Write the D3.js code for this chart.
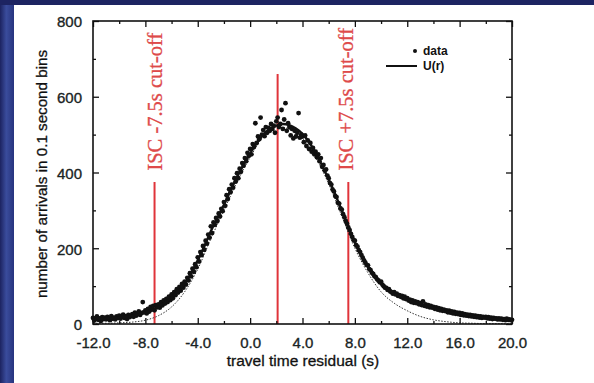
<!DOCTYPE html>
<html><head><meta charset="utf-8">
<script src="https://cdn.jsdelivr.net/npm/d3@7"></script>
<style>html,body{margin:0;padding:0;background:#222a6e;}svg{display:block;}</style>
</head><body>
<svg id="c" width="594" height="383"></svg>
<script>
// ---- data ----
const xTickValues = [-12, -8, -4, 0, 4, 8, 12, 16, 20];
const xTickLabels = ["-12.0", "-8.0", "-4.0", "0.0", "4.0", "8.0", "12.0", "16.0", "20.0"];
const xMinorTicks = [-10, -6, -2, 2, 6, 10, 14, 18];
const yTickValues = [0, 200, 400, 600, 800];
const yTickLabels = ["0", "200", "400", "600", "800"];
const yMinorTicks = [100, 300, 500, 700];

// data: arrivals in 0.1 s bins, from -12.0 to 20.0
const dataStart = -12.0, dataStep = 0.1;
const dataCounts = [
  16, 9, 14, 20, 11, 15, 8, 18, 13, 17,
  12, 19, 15, 10, 21, 14, 17, 12, 20, 16,
  22, 14, 19, 25, 16, 21, 13, 24, 18, 22,
  26, 19, 30, 22, 27, 33, 24, 29, 58, 31,
  36, 28, 40, 33, 45, 38, 48, 36, 50, 44,
  52, 43, 58, 49, 62, 54, 66, 58, 72, 63,
  78, 68, 84, 76, 92, 83, 98, 88, 106, 96,
  112, 104, 122, 115, 134, 126, 146, 138, 158, 150,
  176, 165, 190, 182, 206, 196, 220, 212, 236, 228,
  258, 240, 268, 262, 280, 272, 292, 284, 304, 298,
  322, 312, 340, 330, 356, 348, 368, 360, 385, 376,
  398, 385, 410, 402, 425, 418, 438, 430, 452, 444,
  462, 448, 475, 468, 530, 478, 495, 488, 545, 500,
  512, 496, 520, 505, 518, 510, 528, 515, 524, 505,
  535, 545, 520, 528, 565, 515, 540, 583, 510, 530,
  520, 498, 515, 490, 510, 495, 505, 557, 492, 500,
  495, 480, 498, 470, 485, 462, 478, 455, 465, 448,
  455, 440, 448, 430, 438, 415, 420, 405, 408, 392,
  385, 372, 368, 355, 350, 338, 335, 320, 318, 305,
  302, 290, 282, 272, 265, 255, 248, 238, 230, 222,
  220, 208, 204, 195, 190, 182, 175, 168, 162, 156,
  155, 145, 142, 135, 132, 126, 124, 118, 115, 110,
  112, 104, 100, 96, 95, 90, 92, 86, 84, 80,
  84, 78, 80, 74, 76, 72, 74, 68, 72, 66,
  68, 62, 64, 58, 62, 56, 60, 55, 58, 52,
  55, 50, 60, 48, 52, 46, 50, 44, 48, 43,
  45, 40, 44, 38, 42, 36, 40, 35, 38, 34,
  36, 31, 35, 30, 33, 28, 32, 27, 30, 26,
  29, 24, 28, 23, 26, 22, 25, 21, 24, 20,
  23, 19, 22, 18, 21, 17, 20, 16, 19, 17,
  19, 15, 18, 14, 17, 13, 16, 14, 15, 12,
  15, 12, 14, 11, 13, 10, 14, 11, 12, 10,
  11
];

// U(r) curve, sampled every 0.5 s
const uStart = -12.0, uStep = 0.5;
const uValues = [
  12, 13, 14, 15, 17, 19, 21, 25, 30, 37, 45, 56, 70, 87, 106, 135,
  168, 205, 245, 280, 315, 352, 388, 420, 450, 478, 500, 515, 524, 528,
  525, 516, 502, 480, 452, 418, 382, 342, 300, 257, 215, 180, 150, 126,
  107, 92, 80, 72, 65, 58, 52, 47, 42, 37, 33, 29, 26, 23, 20, 18,
  16, 14, 13, 12, 11
];

// thin dotted lower curve, sampled every 1 s
const lowStart = -12.0, lowStep = 1.0;
const lowValues = [
  2, 2, 3, 5, 10, 22, 45, 85, 145, 225, 300, 375, 440, 495, 520, 515,
  490, 440, 370, 285, 200, 135, 85, 55, 35, 20, 11, 6, 3, 2, 1, 1, 0
];

// red marker lines (position, top value) and labels
const cutLines = [
  {x: -7.3, top: 375},
  {x: 2.1, top: 660},
  {x: 7.5, top: 375}
];
const cutLabels = [
  {x: -7.3, text: "ISC -7.5s cut-off"},
  {x: 7.35, text: "ISC +7.5s cut-off"}
];
const legendItems = ["data", "U(r)"];

// ---- drawing ----
const svg = d3.select("#c");
const W = 594, H = 383;
const L = 93, R = 512, T = 21, B = 324;

const defs = svg.append("defs");
const g1 = defs.append("linearGradient").attr("id", "side").attr("x1", 0).attr("x2", 1).attr("y1", 0).attr("y2", 0);
g1.append("stop").attr("offset", 0).attr("stop-color", "#1c2360");
g1.append("stop").attr("offset", 0.45).attr("stop-color", "#3a4c9c");
g1.append("stop").attr("offset", 1).attr("stop-color", "#27347e");

svg.append("rect").attr("width", W).attr("height", H).attr("fill", "#1d2462");
svg.append("rect").attr("x", 0).attr("y", 5).attr("width", 14).attr("height", H - 5).attr("fill", "url(#side)");
svg.append("rect").attr("x", 14).attr("y", 5).attr("width", W - 14).attr("height", H - 5).attr("fill", "#ffffff");

const x = d3.scaleLinear().domain([-12, 20]).range([L, R]);
const y = d3.scaleLinear().domain([0, 800]).range([B, T]);

const font = "'Liberation Sans', Arial, Helvetica, sans-serif";

// red lines
svg.append("g").selectAll("line").data(cutLines).join("line")
  .attr("x1", d => x(d.x)).attr("x2", d => x(d.x))
  .attr("y1", d => y(d.top)).attr("y2", y(0))
  .attr("stroke", "#e0343a").attr("stroke-width", 2);

// red rotated labels
svg.append("g").selectAll("text").data(cutLabels).join("text")
  .attr("transform", d => `translate(${x(d.x) + 7},${y(405)}) rotate(-90)`)
  .attr("text-anchor", "start")
  .attr("font-family", "'Liberation Serif', 'Times New Roman', serif")
  .attr("font-size", 20.5)
  .attr("fill", "#de4a4a").attr("stroke", "#de4a4a").attr("stroke-width", 0.3)
  .text(d => d.text);

// dotted lower curve
const lowPts = lowValues.map((v, i) => [lowStart + i * lowStep, v]);
svg.append("path").datum(lowPts)
  .attr("d", d3.line().x(d => x(d[0])).y(d => y(d[1])).curve(d3.curveMonotoneX))
  .attr("fill", "none").attr("stroke", "#333").attr("stroke-width", 1)
  .attr("stroke-dasharray", "1.5,1.5");

// data points
const dataPts = dataCounts.map((v, i) => [dataStart + i * dataStep, v]);
svg.append("g").selectAll("circle").data(dataPts).join("circle")
  .attr("cx", d => x(d[0])).attr("cy", d => y(d[1])).attr("r", 2.4)
  .attr("fill", "#111");

// U(r) curve
const uPts = uValues.map((v, i) => [uStart + i * uStep, v]);
svg.append("path").datum(uPts)
  .attr("d", d3.line().x(d => x(d[0])).y(d => y(d[1])).curve(d3.curveMonotoneX))
  .attr("fill", "none").attr("stroke", "#111").attr("stroke-width", 2.4);

// axes
function styleAxis(g) {
  g.select(".domain").remove();
  g.selectAll(".tick line").attr("stroke", "#111").attr("stroke-width", 1.3);
  g.selectAll("text").attr("font-family", font).attr("font-size", 15)
    .attr("fill", "#1a2424").attr("stroke", "#1a2424").attr("stroke-width", 0.35);
}
const xb = svg.append("g").attr("transform", `translate(0,${B})`)
  .call(d3.axisBottom(x).tickValues(xTickValues).tickSize(-6).tickPadding(13)
    .tickFormat((d, i) => xTickLabels[i]));
styleAxis(xb);
const xbm = svg.append("g").attr("transform", `translate(0,${B})`)
  .call(d3.axisBottom(x).tickValues(xMinorTicks).tickSize(-3).tickFormat(""));
styleAxis(xbm);
const xt = svg.append("g").attr("transform", `translate(0,${T})`)
  .call(d3.axisTop(x).tickValues(xTickValues).tickSize(-6).tickFormat(""));
styleAxis(xt);
const xtm = svg.append("g").attr("transform", `translate(0,${T})`)
  .call(d3.axisTop(x).tickValues(xMinorTicks).tickSize(-3).tickFormat(""));
styleAxis(xtm);

const yl = svg.append("g").attr("transform", `translate(${L},0)`)
  .call(d3.axisLeft(y).tickValues(yTickValues).tickSize(-6).tickPadding(11)
    .tickFormat((d, i) => yTickLabels[i]));
styleAxis(yl);
yl.selectAll("text").attr("y", 1);
const ylm = svg.append("g").attr("transform", `translate(${L},0)`)
  .call(d3.axisLeft(y).tickValues(yMinorTicks).tickSize(-3).tickFormat(""));
styleAxis(ylm);
const yr = svg.append("g").attr("transform", `translate(${R},0)`)
  .call(d3.axisRight(y).tickValues(yTickValues).tickSize(-6).tickFormat(""));
styleAxis(yr);
const yrm = svg.append("g").attr("transform", `translate(${R},0)`)
  .call(d3.axisRight(y).tickValues(yMinorTicks).tickSize(-3).tickFormat(""));
styleAxis(yrm);

// frame
svg.append("rect").attr("x", L).attr("y", T).attr("width", R - L).attr("height", B - T)
  .attr("fill", "none").attr("stroke", "#111").attr("stroke-width", 1.6);

// axis titles
svg.append("text").attr("x", 303).attr("y", 366).attr("text-anchor", "middle")
  .attr("font-family", font).attr("font-size", 15.5).attr("fill", "#111")
  .attr("stroke", "#111").attr("stroke-width", 0.3)
  .text("travel time residual (s)");
svg.append("text").attr("transform", `translate(47,174) rotate(-90)`).attr("text-anchor", "middle")
  .attr("font-family", font).attr("font-size", 15.2).attr("fill", "#111")
  .attr("stroke", "#111").attr("stroke-width", 0.3)
  .text("number of arrivals in 0.1 second bins");

// legend
const lg = svg.append("g");
lg.append("circle").attr("cx", 415).attr("cy", 51).attr("r", 2).attr("fill", "#111");
lg.append("text").attr("x", 423).attr("y", 55).attr("font-family", font).attr("font-size", 12)
  .attr("font-weight", "bold").attr("fill", "#111").text(legendItems[0]);
lg.append("line").attr("x1", 386).attr("x2", 417).attr("y1", 66).attr("y2", 66)
  .attr("stroke", "#111").attr("stroke-width", 2);
lg.append("text").attr("x", 423).attr("y", 70).attr("font-family", font).attr("font-size", 12)
  .attr("font-weight", "bold").attr("fill", "#111").text(legendItems[1]);
</script>
</body></html>
